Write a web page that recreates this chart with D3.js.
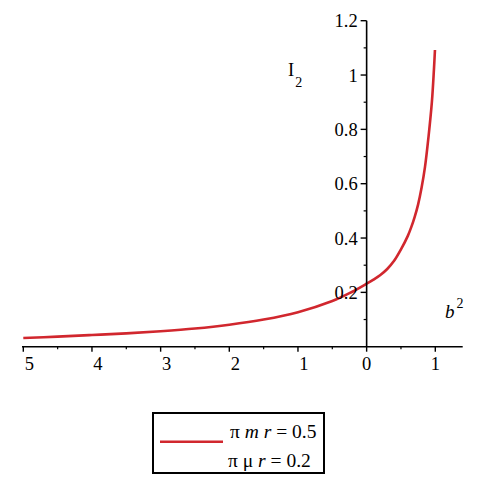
<!DOCTYPE html>
<html>
<head>
<meta charset="utf-8">
<script src="https://cdn.jsdelivr.net/npm/d3@7"></script>
<style>
  body { margin: 0; background: #fff; }
</style>
</head>
<body>
<script>
// curve samples (b^2, I2)
var bSquared = [-5, -4.5, -4, -3.5, -3, -2.5, -2, -1.5, -1, -0.5, -0.25, 0, 0.1, 0.2, 0.3, 0.4, 0.5, 0.6, 0.65, 0.7, 0.75, 0.8, 0.85, 0.9, 0.95, 0.98, 0.995];
var i2Values = [0.032, 0.037, 0.043, 0.049, 0.057, 0.067, 0.081, 0.100, 0.127, 0.168, 0.197, 0.232, 0.247, 0.264, 0.286, 0.316, 0.358, 0.408, 0.440, 0.478, 0.524, 0.585, 0.662, 0.770, 0.900, 1.020, 1.092];

var xMajor = [-5, -4, -3, -2, -1, 0, 1];
var xMinor = [-4.5, -3.5, -2.5, -1.5, -0.5, 0.5];
var yMajor = [0.2, 0.4, 0.6, 0.8, 1, 1.2];
var yMinor = [0.1, 0.3, 0.5, 0.7, 0.9, 1.1];

var legendLines = ["π m r = 0.5", "π μ r = 0.2"];

var width = 485, height = 490;
var serif = "Liberation Serif";

var x = d3.scaleLinear().domain([-5, 1]).range([23.3, 435.3]);
var y = d3.scaleLinear().domain([0, 1.2]).range([346.7, 20.7]);

var svg = d3.select("body").append("svg")
    .attr("width", width)
    .attr("height", height);

// curve
var line = d3.line()
    .x(function(d, i) { return x(bSquared[i]); })
    .y(function(d) { return y(d); })
    .curve(d3.curveCatmullRom);

svg.append("path")
    .datum(i2Values)
    .attr("d", line)
    .attr("fill", "none")
    .attr("stroke", "#d1272e")
    .attr("stroke-width", 2.6);

// x axis
var xAxisG = svg.append("g");
xAxisG.append("line")
    .attr("x1", 22).attr("x2", 462.7)
    .attr("y1", y(0)).attr("y2", y(0))
    .attr("stroke", "#000").attr("stroke-width", 1.6);

xAxisG.selectAll(".xmaj").data(xMajor).enter().append("line")
    .attr("x1", function(d) { return x(d); }).attr("x2", function(d) { return x(d); })
    .attr("y1", y(0)).attr("y2", y(0) + 5)
    .attr("stroke", "#000").attr("stroke-width", 1.4);

xAxisG.selectAll(".xmin").data(xMinor).enter().append("line")
    .attr("x1", function(d) { return x(d); }).attr("x2", function(d) { return x(d); })
    .attr("y1", y(0)).attr("y2", y(0) + 2.5)
    .attr("stroke", "#000").attr("stroke-width", 1.2);

// minus signs are not drawn, so negative labels sit a bit right of their tick
xAxisG.selectAll(".xlab").data(xMajor).enter().append("text")
    .attr("x", function(d) { return x(d) + (d < 0 ? 6 : 0); })
    .attr("y", 370)
    .attr("text-anchor", "middle")
    .attr("font-family", serif)
    .attr("font-size", 18.5)
    .text(function(d) { return Math.abs(d); });

// y axis
var yAxisG = svg.append("g");
yAxisG.append("line")
    .attr("x1", x(0)).attr("x2", x(0))
    .attr("y1", y(0)).attr("y2", y(1.2))
    .attr("stroke", "#000").attr("stroke-width", 1.6);

yAxisG.selectAll(".ymaj").data(yMajor).enter().append("line")
    .attr("x1", x(0) - 6).attr("x2", x(0))
    .attr("y1", function(d) { return y(d); }).attr("y2", function(d) { return y(d); })
    .attr("stroke", "#000").attr("stroke-width", 1.4);

yAxisG.selectAll(".ymin").data(yMinor).enter().append("line")
    .attr("x1", x(0) - 3).attr("x2", x(0))
    .attr("y1", function(d) { return y(d); }).attr("y2", function(d) { return y(d); })
    .attr("stroke", "#000").attr("stroke-width", 1.2);

yAxisG.selectAll(".ylab").data(yMajor).enter().append("text")
    .attr("x", x(0) - 9)
    .attr("y", function(d) { return y(d) + 6.5; })
    .attr("text-anchor", "end")
    .attr("font-family", serif)
    .attr("font-size", 18.5)
    .text(function(d) { return d; });

// axis titles
var yTitle = svg.append("text")
    .attr("x", 288)
    .attr("y", 76)
    .attr("font-family", serif)
    .attr("font-size", 18.5);
yTitle.append("tspan").text("I");
yTitle.append("tspan").attr("font-size", 14).attr("dx", 1).attr("dy", 11).text("2");

var xTitle = svg.append("text")
    .attr("x", 445)
    .attr("y", 318)
    .attr("font-family", serif)
    .attr("font-size", 19);
xTitle.append("tspan").attr("font-style", "italic").text("b");
xTitle.append("tspan").attr("font-size", 14).attr("dx", 2).attr("dy", -10).text("2");

// legend
var legend = svg.append("g");
legend.append("rect")
    .attr("x", 153).attr("y", 413)
    .attr("width", 171).attr("height", 60)
    .attr("fill", "none")
    .attr("stroke", "#000").attr("stroke-width", 2);

legend.append("line")
    .attr("x1", 160).attr("x2", 223)
    .attr("y1", 441.7).attr("y2", 441.7)
    .attr("stroke", "#d1272e").attr("stroke-width", 2.6);

function legendText(xPos, yPos, sym, val) {
    var t = legend.append("text")
        .attr("x", xPos)
        .attr("y", yPos)
        .attr("font-family", serif)
        .attr("font-size", 19.5);
    t.append("tspan").text("π ");
    t.append("tspan").attr("font-style", sym === "m" ? "italic" : "normal").text(sym);
    t.append("tspan").text(" ");
    t.append("tspan").attr("font-style", "italic").text("r");
    t.append("tspan").text(" = " + val);
}
legendLines.forEach(function(s, i) {
    var parts = s.split(" ");
    legendText(i === 0 ? 230 : 228, i === 0 ? 438 : 466.5, parts[1], parts[4]);
});
</script>
</body>
</html>
